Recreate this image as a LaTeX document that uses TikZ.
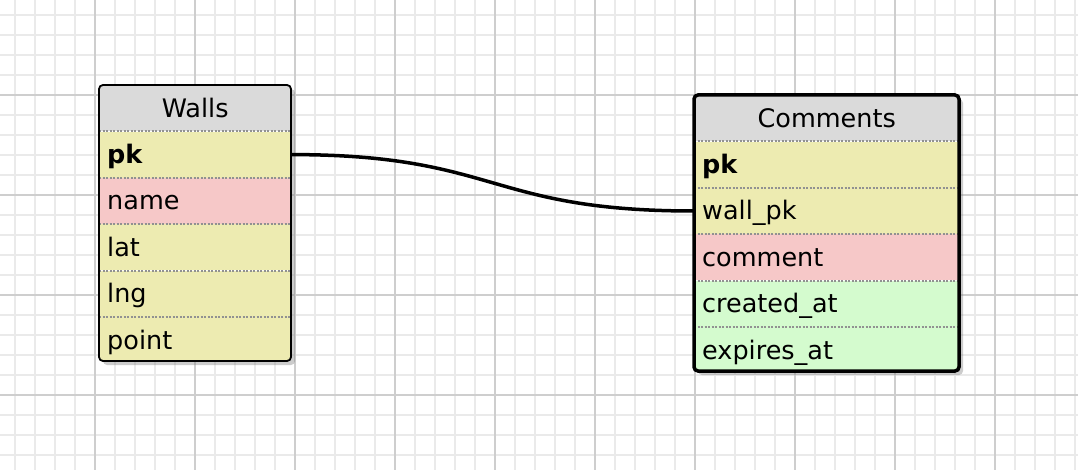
\documentclass[tikz,border=0pt]{standalone}
\usepackage{fontspec}
\setmainfont{DejaVu Sans}
\usetikzlibrary{positioning,shadows}
\definecolor{gridminor}{RGB}{234,234,234}
\definecolor{gridmajor}{RGB}{206,206,206}
\definecolor{headgrey}{RGB}{218,218,218}
\definecolor{numyellow}{RGB}{237,235,177}
\definecolor{strpink}{RGB}{246,200,200}
\definecolor{dategreen}{RGB}{212,251,206}
\definecolor{sepgrey}{RGB}{145,145,145}
\tikzset{
  field/.style={anchor=north west, inner xsep=8pt, inner ysep=0pt, minimum height=46pt,
    text height=22pt, text depth=4pt, align=left, font=\fontsize{25.5}{30}\selectfont},
  title/.style={field, fill=headgrey, align=center},
  sep/.style={sepgrey, line width=2pt, dash pattern=on 2pt off 1.5pt},
  tabshadow/.style={fill=white, rounded corners=4pt,
    drop shadow={opacity=0.4, shadow xshift=4pt, shadow yshift=-4pt}},
}
\begin{document}
\begin{tikzpicture}[x=1pt,y=-1pt]
  \useasboundingbox (0,0) rectangle (1078,470);
  \fill[white] (0,0) rectangle (1078,470);
  \foreach \x in {15,35,...,1075}
    \draw[gridminor, line width=2pt] (\x,0) -- (\x,470);
  \foreach \y in {15,35,...,465}
    \draw[gridminor, line width=2pt] (0,\y) -- (1078,\y);
  \foreach \x in {95,195,...,995}
    \draw[gridmajor, line width=2pt] (\x,0) -- (\x,470);
  \foreach \y in {95,195,...,395}
    \draw[gridmajor, line width=2pt] (0,\y) -- (1078,\y);

  \path[tabshadow] (99,85) rectangle (291,361);
  \begin{scope}
    \clip[rounded corners=4pt] (99,85) rectangle (291,361);
    \begin{scope}[every node/.style={text width=176pt}]
      \node[title] (walls) at (99,85) {Walls};
      \node[field, fill=numyellow, below=0pt of walls] (wallspk) {\bfseries pk};
      \node[field, fill=strpink, below=0pt of wallspk] (wallsname) {name};
      \node[field, fill=numyellow, below=0pt of wallsname] (wallslat) {lat};
      \node[field, fill=numyellow, below=0pt of wallslat] (wallslng) {lng};
      \node[field, fill=numyellow, below=0pt of wallslng] (wallspoint) {point};
    \end{scope}
  \end{scope}
  \foreach \n in {walls,wallspk,wallsname,wallslat,wallslng}
    \draw[sep] (\n.south west) -- (\n.south east);
  \draw[line width=1.8pt, rounded corners=4pt] (99,85) rectangle (291,361);

  \path[tabshadow] (694,95) rectangle (959,371);
  \begin{scope}
    \clip[rounded corners=4pt] (694,95) rectangle (959,371);
    \begin{scope}[every node/.style={text width=249pt}]
      \node[title] (comments) at (694,95) {Comments};
      \node[field, fill=numyellow, below=0pt of comments] (commentspk) {\bfseries pk};
      \node[field, fill=numyellow, below=0pt of commentspk] (commentswall) {wall\_pk};
      \node[field, fill=strpink, below=0pt of commentswall] (commentstext) {comment};
      \node[field, fill=dategreen, below=0pt of commentstext] (commentscreated) {created\_at};
      \node[field, fill=dategreen, below=0pt of commentscreated] (commentsexpires) {expires\_at};
    \end{scope}
  \end{scope}
  \foreach \n in {comments,commentspk,commentswall,commentstext,commentscreated}
    \draw[sep] (\n.south west) -- (\n.south east);

  \begin{scope}[-]
    \draw[line width=3.5pt] (wallspk.east) to[out=0, in=180, looseness=1.3] (commentswall.west);
  \end{scope}
  \draw[line width=3.5pt, rounded corners=4pt] (694,95) rectangle (959,371);
\end{tikzpicture}
\end{document}
